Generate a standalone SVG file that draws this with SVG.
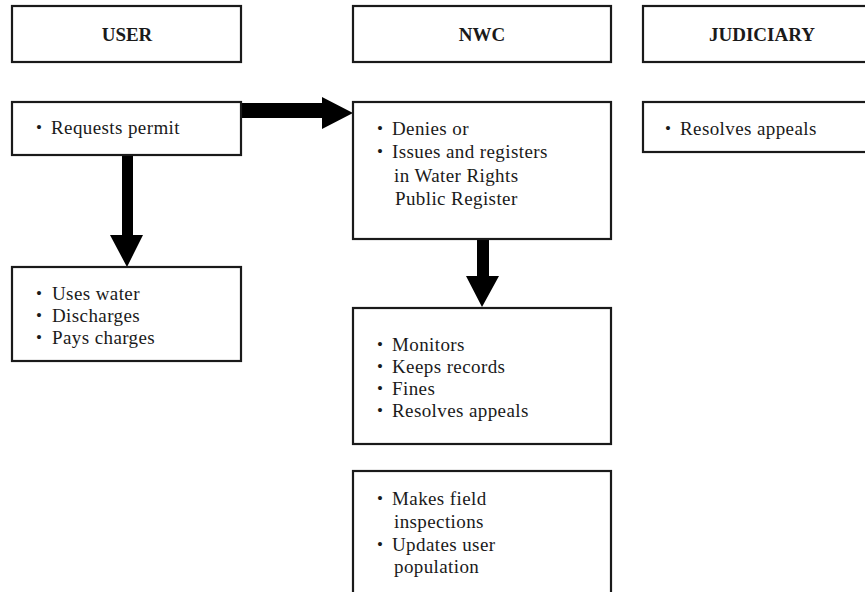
<svg xmlns="http://www.w3.org/2000/svg" width="865" height="592" viewBox="0 0 865 592">
<style>
.box{fill:#fff;stroke:#1a1a1a;stroke-width:2.2}
.h{font-family:"Liberation Serif",serif;font-weight:bold;font-size:19px;fill:#1a1a1a;text-anchor:middle}
.t{font-family:"Liberation Serif",serif;font-size:19px;fill:#1a1a1a;letter-spacing:0.4px}
.b{font-family:"Liberation Serif",serif;font-size:17px;fill:#1a1a1a}
.arrow{fill:#000}
</style>
<rect width="865" height="592" fill="#fff"/>
<g id="connectors">
<polygon class="arrow" points="241,103 322,103 322,97 353,113 322,129 322,118 241,118"/>
<polygon class="arrow" points="122,155 133,155 133,235 143,235 127,267 110,235 122,235"/>
<polygon class="arrow" points="477,238 489,238 489,276 499,276 482,307 466,276 477,276"/>
</g>
<g id="user-header"><rect class="box" x="12" y="6" width="229" height="56"/><text class="h" x="127" y="41">USER</text></g>
<g id="nwc-header"><rect class="box" x="353" y="6" width="258" height="56"/><text class="h" x="482" y="41">NWC</text></g>
<g id="judiciary-header"><rect class="box" x="643" y="6" width="240" height="56"/><text class="h" x="762" y="41">JUDICIARY</text></g>
<g id="user-request"><rect class="box" x="12" y="102" width="229" height="53"/>
<text class="b" x="36" y="133">•</text><text class="t" x="51" y="134">Requests permit</text></g>
<g id="user-uses"><rect class="box" x="12" y="267" width="229" height="94"/>
<text class="b" x="36" y="299">•</text><text class="t" x="52" y="300">Uses water</text>
<text class="b" x="36" y="321">•</text><text class="t" x="52" y="322">Discharges</text>
<text class="b" x="36" y="343">•</text><text class="t" x="52" y="344">Pays charges</text></g>
<g id="nwc-decision"><rect class="box" x="353" y="102" width="258" height="137"/>
<text class="b" x="377" y="134">•</text><text class="t" x="392" y="135">Denies or</text>
<text class="b" x="377" y="157">•</text><text class="t" x="392" y="158">Issues and registers</text>
<text class="t" x="394" y="182">in Water Rights</text>
<text class="t" x="395" y="205">Public Register</text></g>
<g id="judiciary-appeals"><rect class="box" x="643" y="102" width="240" height="50"/>
<text class="b" x="665" y="134">•</text><text class="t" x="680" y="135">Resolves appeals</text></g>
<g id="nwc-monitor"><rect class="box" x="353" y="308" width="258" height="136"/>
<text class="b" x="377" y="350">•</text><text class="t" x="392" y="351">Monitors</text>
<text class="b" x="377" y="372">•</text><text class="t" x="392" y="373">Keeps records</text>
<text class="b" x="377" y="394">•</text><text class="t" x="392" y="395">Fines</text>
<text class="b" x="377" y="416">•</text><text class="t" x="392" y="417">Resolves appeals</text></g>
<g id="nwc-inspect"><rect class="box" x="353" y="471" width="258" height="140"/>
<text class="b" x="377" y="504">•</text><text class="t" x="392" y="505">Makes field</text>
<text class="t" x="394" y="528">inspections</text>
<text class="b" x="377" y="550">•</text><text class="t" x="392" y="551">Updates user</text>
<text class="t" x="394" y="573">population</text></g>
</svg>
